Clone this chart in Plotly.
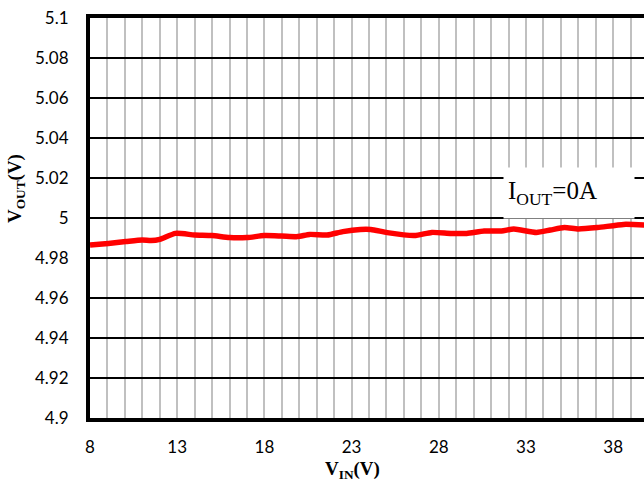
import plotly.graph_objects as go

vin = [8, 9.05, 10.05, 11, 11.5, 12, 12.9, 14, 15, 16, 17, 18, 19, 19.9, 20.6, 21.6, 22.5, 23.5, 24.1,
       25.05, 26.6, 27.6, 28.7, 29.6, 30.6, 31.6, 32.3, 33.6, 34.4, 35.2, 36, 37.1, 38.6, 39.8]
vout = [4.9865, 4.9873, 4.9882, 4.989, 4.9887, 4.9893, 4.9923, 4.9915, 4.9912, 4.9902, 4.9902, 4.9912,
        4.991, 4.9907, 4.9918, 4.9915, 4.9932, 4.9943, 4.9943,
        4.9927, 4.9912, 4.9928, 4.9923, 4.9923, 4.9935, 4.9935, 4.9945, 4.9928, 4.994, 4.9952, 4.9945,
        4.9952, 4.9968, 4.9965]
x_ticks = [8, 13, 18, 23, 28, 33, 38]
y_ticks = [4.9, 4.92, 4.94, 4.96, 4.98, 5.0, 5.02, 5.04, 5.06, 5.08, 5.1]
y_labels = ["4.9", "4.92", "4.94", "4.96", "4.98", "5", "5.02", "5.04", "5.06", "5.08", "5.1"]

W, H = 644, 482
L, T, B = 90, 18, 482 - 418
PW, PH = W - L, H - T - B

fig = go.Figure()
fig.add_trace(go.Scatter(x=vin, y=vout, mode="lines",
                         line=dict(color="#ff0000", width=5.5, shape="spline", smoothing=0.6),
                         showlegend=False, hoverinfo="skip"))

fig.update_layout(
    width=W, height=H,
    margin=dict(l=L, r=0, t=T, b=B, autoexpand=False),
    plot_bgcolor="white", paper_bgcolor="white",
    font=dict(family="Lato", size=17, color="black"),
    xaxis=dict(range=[8, 39.77], tickvals=x_ticks, showgrid=True, gridcolor="#c0c0c0", gridwidth=2,
               minor=dict(dtick=1, tick0=8, showgrid=True, gridcolor="#c0c0c0", gridwidth=2),
               showline=True, linecolor="black", linewidth=4, mirror=True,
               ticks="", ticklabelstandoff=11, zeroline=False, ticklabeloverflow="allow",
               tickfont=dict(family="Lato", size=17)),
    yaxis=dict(range=[4.9, 5.100001], tickvals=y_ticks, ticktext=y_labels, showgrid=True,
               gridcolor="black", gridwidth=2, showline=True, linecolor="black", linewidth=4,
               ticks="", ticklabelstandoff=14, zeroline=False, ticklabeloverflow="allow",
               tickfont=dict(family="Lato", size=17)),
)

fig.add_annotation(xref="paper", yref="paper", x=(16 - 90) / PW, y=(418 - 189) / PH,
                   xanchor="center", yanchor="middle",
                   text="<b>V<sub>OUT</sub>(V)</b>", textangle=-90, showarrow=False,
                   font=dict(family="Liberation Serif", size=19, color="black"))
fig.add_annotation(xref="paper", yref="paper", x=(352 - 90) / PW, y=-(470 - 418) / PH,
                   xanchor="center", yanchor="middle",
                   text="<b>V<sub>IN</sub>(V)</b>", showarrow=False,
                   font=dict(family="Liberation Serif", size=19, color="black"))
fig.add_annotation(x=31.7, y=5.0125, xref="x", yref="y", xanchor="left", yanchor="middle",
                   text="I<sub>OUT</sub>=0A", showarrow=False, bgcolor="white",
                   borderpad=4, width=122, height=42, align="left", valign="middle",
                   font=dict(family="Liberation Serif", size=25, color="black"))

fig.write_html("out.html", config={"displayModeBar": False},
               post_script="document.body.style.margin='0';document.body.style.overflow='hidden';")
